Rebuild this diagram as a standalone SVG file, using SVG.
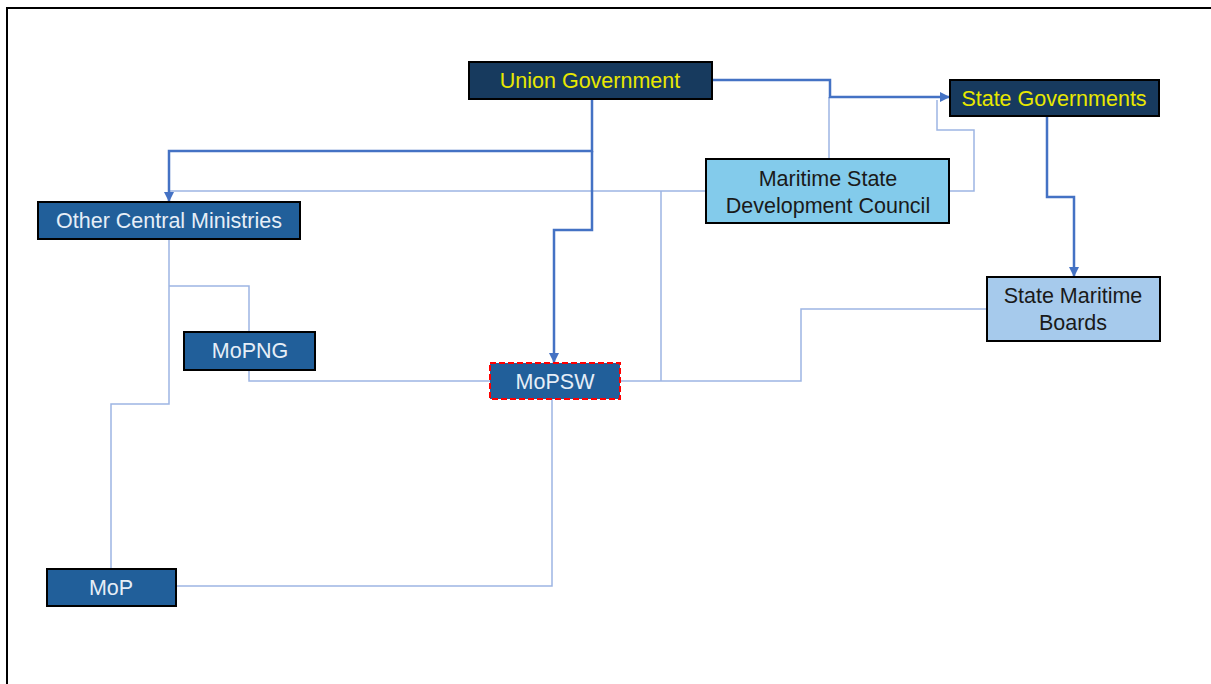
<svg xmlns="http://www.w3.org/2000/svg" width="1211" height="684" viewBox="0 0 1211 684">
<style>
.box{stroke:#000;stroke-width:2}
.dark{fill:#173A5E}
.mid{fill:#215F9A}
.t{font-family:"Liberation Sans",Arial,sans-serif;font-size:21.5px;text-anchor:middle}
.ty{fill:#E8E800}
.tw{fill:#E6EEF7}
.tk{fill:#1A1A1A}
.thick{fill:none;stroke:#4472C4;stroke-width:2.5}
.thin{fill:none;stroke:#9DB5E3;stroke-width:1.5}
</style>
<defs>
<marker id="arr" viewBox="0 0 10 10" refX="10" refY="5" markerWidth="4" markerHeight="4" orient="auto" markerUnits="strokeWidth">
<path d="M0,0 L10,5 L0,10 z" fill="#4472C4"/>
</marker>
</defs>
<rect x="0" y="0" width="1211" height="684" fill="#fff"/>
<path d="M7,684 V8 H1211" fill="none" stroke="#000" stroke-width="2"/>
<g id="connectors">
<path class="thin" d="M829,159 V97"/>
<path class="thin" d="M949,191 H974 V130 H937 V100"/>
<path class="thin" d="M706,191 H169"/>
<path class="thin" d="M661,191 V381"/>
<path class="thin" d="M620,381 H801 V309 H987"/>
<path class="thin" d="M169,239 V404 H111 V569"/>
<path class="thin" d="M169,286 H249 V332"/>
<path class="thin" d="M249,370 V381 H490"/>
<path class="thin" d="M176,586 H552 V399"/>
<path class="thick" d="M712,80 H830 V97 H950" marker-end="url(#arr)"/>
<path class="thick" d="M592,99 V151 H169 V202" marker-end="url(#arr)"/>
<path class="thick" d="M592,151 V230 H554 V363" marker-end="url(#arr)"/>
<path class="thick" d="M1047,116 V197 H1074 V277" marker-end="url(#arr)"/>
</g>
<g id="union-government">
<rect class="box dark" x="469" y="62" width="243" height="37"/>
<text class="t ty" x="590" y="88">Union Government</text>
</g>
<g id="state-governments">
<rect class="box dark" x="950" y="80" width="209" height="36"/>
<text class="t ty" x="1054" y="106">State Governments</text>
</g>
<g id="msdc">
<rect class="box" fill="#83CBEB" x="706" y="159" width="243" height="64"/>
<text class="t tk" x="828" y="186">Maritime State</text>
<text class="t tk" x="828" y="213">Development Council</text>
</g>
<g id="other-central-ministries">
<rect class="box mid" x="38" y="202" width="262" height="37"/>
<text class="t tw" x="169" y="228">Other Central Ministries</text>
</g>
<g id="state-maritime-boards">
<rect class="box" fill="#A6CAEC" x="987" y="277" width="173" height="64"/>
<text class="t tk" x="1073" y="303">State Maritime</text>
<text class="t tk" x="1073" y="330">Boards</text>
</g>
<g id="mopng">
<rect class="box mid" x="184" y="332" width="131" height="38"/>
<text class="t tw" x="250" y="358">MoPNG</text>
</g>
<g id="mopsw">
<rect class="mid" x="490" y="363" width="130" height="36" stroke="#FF0000" stroke-width="2" stroke-dasharray="6,3"/>
<text class="t tw" x="555" y="389">MoPSW</text>
</g>
<g id="mop">
<rect class="box mid" x="47" y="569" width="129" height="37"/>
<text class="t tw" x="111" y="595">MoP</text>
</g>
</svg>
